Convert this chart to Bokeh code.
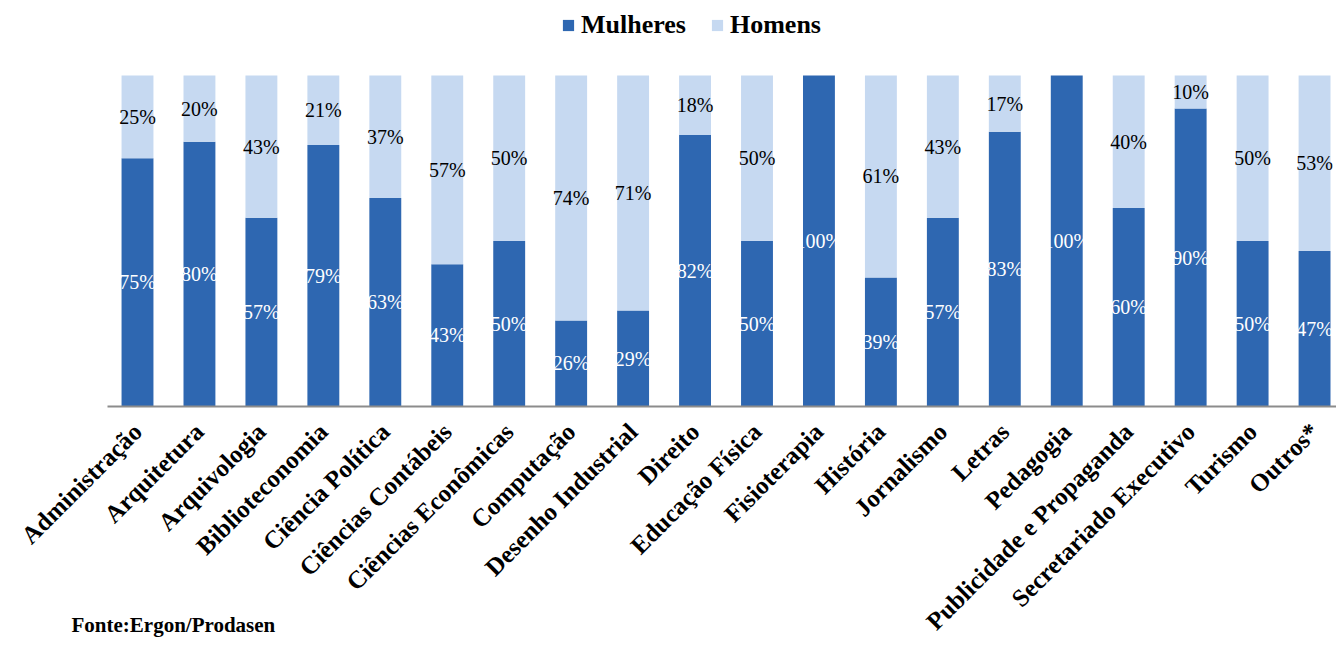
import math
from bokeh.plotting import figure
from bokeh.models import ColumnDataSource, Legend, LegendItem, Label, FixedTicker
from bokeh.core.properties import value
from bokeh.embed import file_html
from bokeh.resources import INLINE

categories = ["Administração", "Arquitetura", "Arquivologia", "Biblioteconomia",
              "Ciência Política", "Ciências Contábeis", "Ciências Econômicas",
              "Computação", "Desenho Industrial", "Direito", "Educação Física",
              "Fisioterapia", "História", "Jornalismo", "Letras", "Pedagogia",
              "Publicidade e Propaganda", "Secretariado Executivo", "Turismo", "Outros*"]
mulheres = [75, 80, 57, 79, 63, 43, 50, 26, 29, 82, 50, 100, 39, 57, 83, 100, 60, 90, 50, 47]
homens = [25, 20, 43, 21, 37, 57, 50, 74, 71, 18, 50, 0, 61, 43, 17, 0, 40, 10, 50, 53]

DARK = "#2E67B1"
LIGHT = "#C6D9F1"
SERIF = "Liberation Serif"

W, H = 1336, 639
X0, DX = 137.0, 61.95      # first category centre and spacing, in pixels
Y0, DY = 406.0, 331.0      # axis position and full-bar height, in pixels

xs = list(range(len(categories)))
m_frac = [v / 100 for v in mulheres]
h_frac = [v / 100 for v in homens]

src = ColumnDataSource(dict(x=xs, m=m_frac, h=h_frac))

p = figure(width=W, height=H, output_backend="svg", toolbar_location=None,
           x_range=(-X0 / DX, (W - X0) / DX),
           y_range=(-(H - Y0) / DY, Y0 / DY), y_axis_location=None,
           min_border_left=0, min_border_right=0, min_border_top=0, min_border_bottom=0)
p.outline_line_color = None
p.grid.visible = False

rs = p.vbar_stack(["m", "h"], x="x", width=0.515, color=[DARK, LIGHT], source=src,
                  line_color=None)

# labels for Mulheres
ml = ColumnDataSource(dict(x=xs, y=[v / 2 for v in m_frac], t=[f"{v}%" for v in mulheres]))
p.text(x="x", y="y", text="t", source=ml, text_align="center", text_baseline="middle",
       text_color="white", text_font=value(SERIF), text_font_size="20px")
# labels for Homens (only where present)
hx = [x for x, v in zip(xs, homens) if v > 0]
hy = [m + h / 2 for m, h in zip(m_frac, h_frac) if h > 0]
ht = [f"{v}%" for v in homens if v > 0]
hl = ColumnDataSource(dict(x=hx, y=hy, t=ht))
p.text(x="x", y="y", text="t", source=hl, text_align="center", text_baseline="middle",
       text_color="black", text_font=value(SERIF), text_font_size="20px")

ax = p.xaxis[0]
ax.fixed_location = 0
ax.bounds = (-0.49, 20)
ax.ticker = FixedTicker(ticks=xs)
ax.major_label_overrides = {i: c for i, c in enumerate(categories)}
ax.major_label_orientation = math.pi / 4
ax.major_label_text_font = SERIF
ax.major_label_text_font_style = "bold"
ax.major_label_text_font_size = "25px"
ax.major_label_text_color = "black"
ax.major_tick_line_color = None
ax.minor_tick_line_color = None
ax.axis_line_color = "#8C8C8C"
ax.axis_line_width = 2
ax.major_label_standoff = 15

legend = Legend(items=[LegendItem(label="Mulheres", renderers=[rs[0]]),
                       LegendItem(label="Homens", renderers=[rs[1]])],
                orientation="horizontal", location=(561, 599),
                label_text_font=SERIF, label_text_font_style="bold",
                label_text_font_size="26px", label_text_color="black",
                glyph_width=14, glyph_height=14,
                label_standoff=6, spacing=24, padding=0, margin=0,
                border_line_color=None, background_fill_alpha=0)
p.add_layout(legend)

foot = Label(x=(71 - X0) / DX, y=(Y0 - 636) / DY, text="Fonte:Ergon/Prodasen",
             text_font=SERIF, text_font_style="bold", text_font_size="21px",
             text_color="black", text_baseline="bottom")
p.add_layout(foot)

open("out.html", "w").write(file_html(p, INLINE))
